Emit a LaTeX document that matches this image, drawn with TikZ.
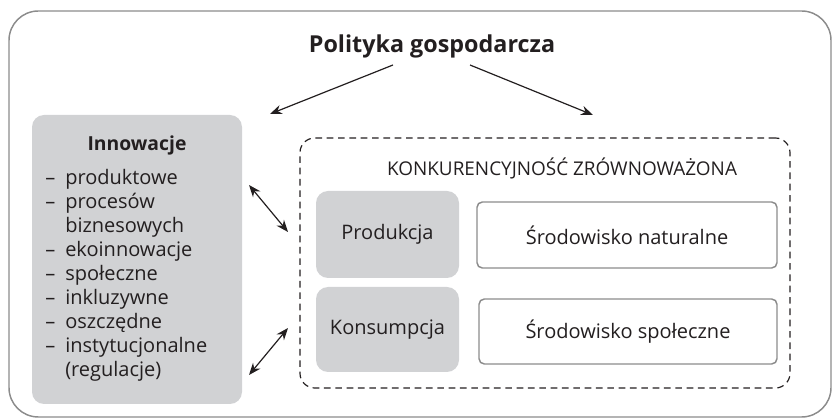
\documentclass[tikz,border=0pt]{standalone}
\usepackage{fontspec}
\setmainfont{Open Sans}
\usetikzlibrary{calc,arrows.meta}
\definecolor{boxgray}{HTML}{D1D2D4}
\definecolor{linegray}{HTML}{8C8C8C}
\definecolor{inkblack}{HTML}{231F20}
\newcommand\listdash{\makebox[15pt][l]{–}}
\newcommand\listgap{\hspace*{15pt}}

\tikzset{
  graybox/.style={fill=boxgray, rounded corners=9pt, inner sep=0pt, outer sep=0pt},
  whitebox/.style={draw=linegray, line width=1.1pt, fill=white, rounded corners=4pt, inner sep=0pt, outer sep=0pt},
  link/.style={inkblack, line width=0.9pt, -{Stealth[length=9pt,width=7pt]}},
  twolink/.style={inkblack, line width=0.9pt, {Stealth[length=9pt,width=7pt]}-{Stealth[length=9pt,width=7pt]}}
}

\begin{document}
\begin{tikzpicture}[x=0.75pt,y=-0.75pt,every node/.style={text=inkblack}]
  \useasboundingbox (0,0) rectangle (833,420);

  %% Outer frame and dashed frame
  \node[draw=linegray, line width=1.1pt, rounded corners=22pt, inner sep=0pt,
        minimum width=616.5pt, minimum height=304.5pt] (frame) at (420,214) {};
  \node[draw=inkblack, line width=0.9pt, dashed, dash pattern=on 5pt off 3.5pt,
        rounded corners=11pt, inner sep=0pt,
        minimum width=367.5pt, minimum height=187.5pt] (konk) at (545,263) {};

  %% Title
  \node[font=\fontsize{17.5}{21}\selectfont\bfseries] (polityka) at (432,46) {Polityka gospodarcza};

  %% Innovations box
  \node[graybox, minimum width=157.5pt, minimum height=216.75pt] (innov) at (137,259.5) {};
  \node[font=\fontsize{14.5}{18}\selectfont\bfseries] (innovtitle) at (137,145) {Innowacje};
  \node[anchor=north west, inner sep=0pt, align=left,
        font=\fontsize{15}{18}\selectfont] (innovlist) at (45,169)
    {\listdash produktowe\\
     \listdash procesów\\
     \listgap biznesowych\\
     \listdash ekoinnowacje\\
     \listdash społeczne\\
     \listdash inkluzywne\\
     \listdash oszczędne\\
     \listdash instytucjonalne\\
     \listgap (regulacje)};

  %% Inside the dashed frame
  \node[font=\fontsize{14.2}{17}\selectfont] (konktitle) at (562,168) {KONKURENCYJNOŚĆ ZRÓWNOWAŻONA};
  \node[graybox, minimum width=107.25pt, minimum height=65.25pt,
        font=\fontsize{15}{18}\selectfont] (prod) at (387.5,234.5) {Produkcja};
  \node[graybox, minimum width=107.25pt, minimum height=63.75pt,
        font=\fontsize{15}{18}\selectfont] (kons) at (387.5,329.5) {Konsumpcja};
  \node[whitebox, minimum width=225pt, minimum height=49.5pt,
        font=\fontsize{15}{18}\selectfont] (natural) at (627,235) {Środowisko naturalne};
  \node[whitebox, minimum width=223.5pt, minimum height=48.75pt,
        font=\fontsize{15}{18}\selectfont] (social) at (628,331.5) {Środowisko społeczne};

  %% Arrows
  \coordinate (polL) at (393,65);
  \coordinate (polR) at (470,65);
  \coordinate (innovTip) at (270,114);
  \coordinate (konkTip) at (593,115);
  \draw[link] (polL) -- (innovTip);
  \draw[link] (polR) -- (konkTip);

  \coordinate (upA) at (249,185);
  \coordinate (upB) at (288,232);
  \coordinate (loA) at (288,328);
  \coordinate (loB) at (249,375);
  \draw[twolink] (upA) -- (upB);
  \draw[twolink] (loA) -- (loB);
\end{tikzpicture}
\end{document}
